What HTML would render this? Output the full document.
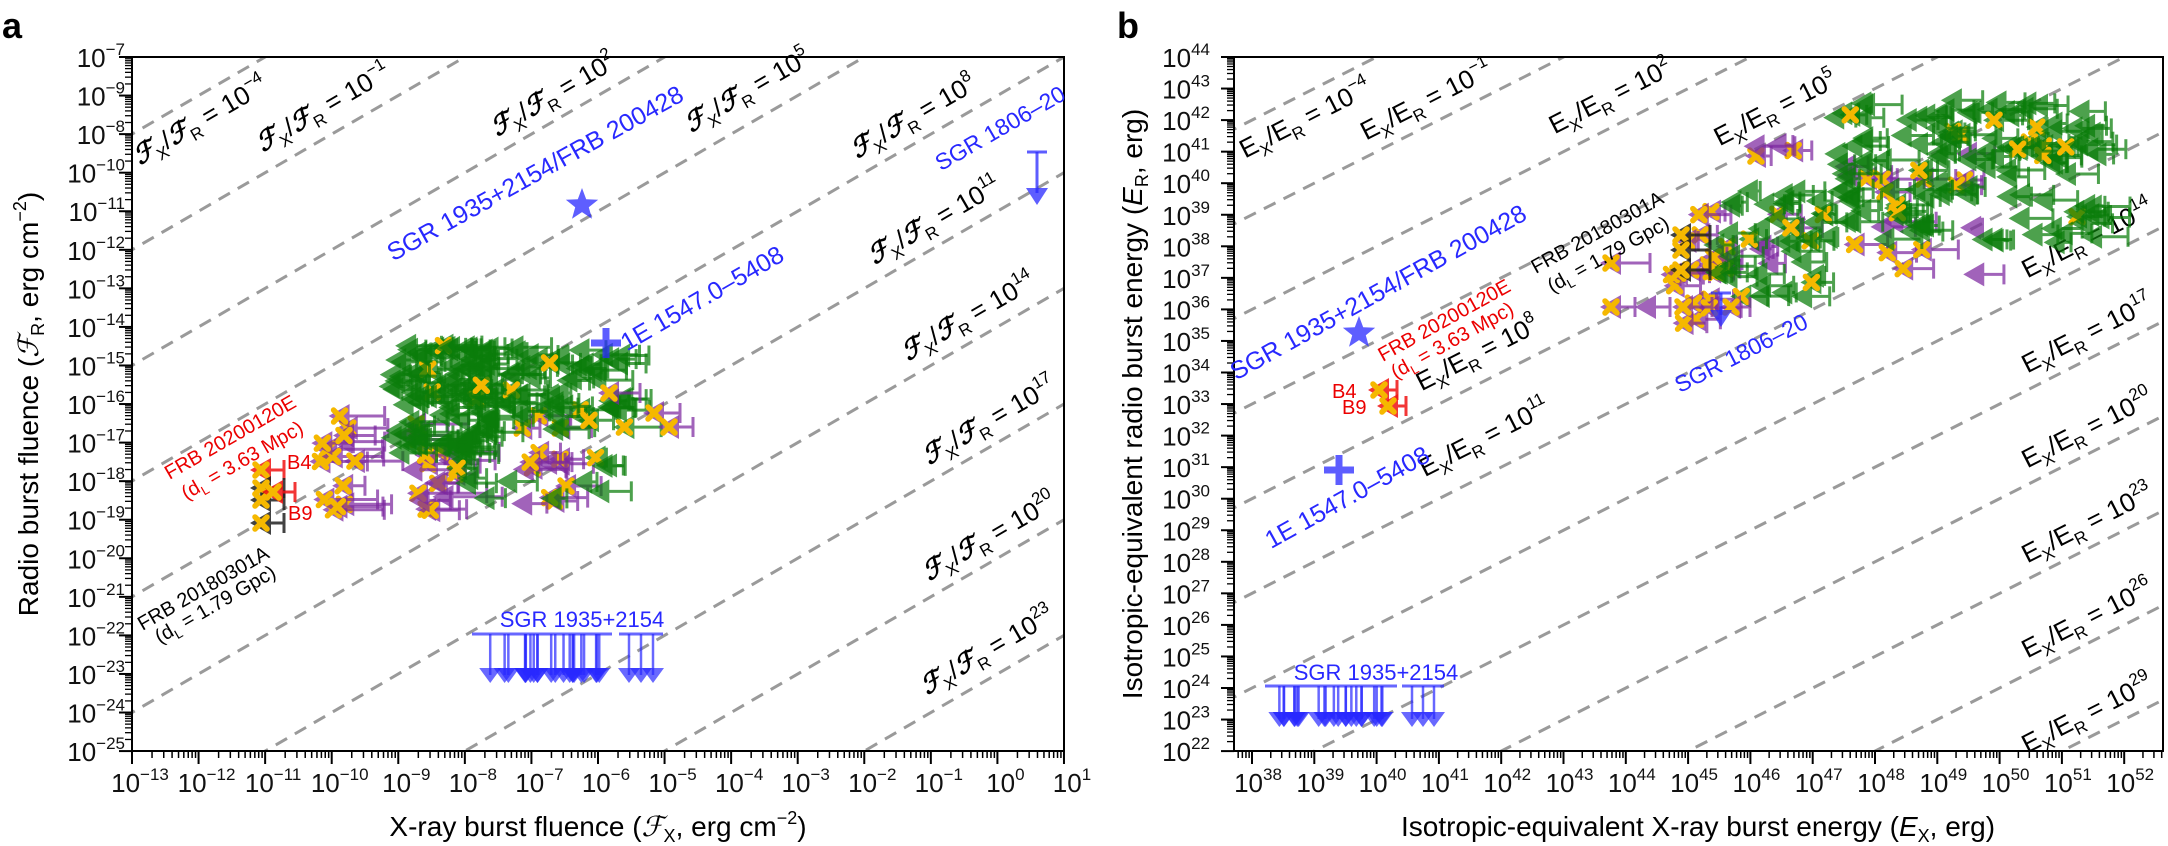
<!DOCTYPE html>
<html><head><meta charset="utf-8"><style>
html,body{margin:0;padding:0;background:#fff;width:2168px;height:846px;overflow:hidden;}
svg{display:block;font-family:"Liberation Sans","DejaVu Sans",sans-serif;}
</style></head><body>
<svg id="s" width="2168" height="846" viewBox="0 0 2168 846" xmlns="http://www.w3.org/2000/svg">
<defs>
<clipPath id="ca"><rect x="132" y="57" width="932" height="694"/></clipPath>
<clipPath id="cb"><rect x="1234" y="57" width="929" height="694"/></clipPath>
</defs>
<text x="2" y="38" font-size="36" font-weight="bold">a</text>
<text x="1117" y="38" font-size="36" font-weight="bold">b</text>
<g id="ga" clip-path="url(#ca)"></g>
<g id="gb" clip-path="url(#cb)"></g>
<g id="top"></g>
</svg>
<script>
(function(){
var NS="http://www.w3.org/2000/svg";
function el(p,tag,attrs,txt){var e=document.createElementNS(NS,tag);for(var k in attrs)e.setAttribute(k,attrs[k]);if(txt!=null)e.textContent=txt;p.appendChild(e);return e;}
var top=document.getElementById('top'),ga=document.getElementById('ga'),gb=document.getElementById('gb');
var seed=12345;function rnd(){seed=(seed*1103515245+12345)%2147483648;return seed/2147483648;}
function AX(l){return 132+(l+13)*66.57;} function AY(l){return 57+(-7-l)*38.56;}
function BX(l){return 1252+(l-38)*62.3;} function BY(l){return 57+(44-l)*31.55;}
[-4,-1,2,5,8,11,14,17,20,23].forEach(function(k){
 el(ga,'line',{x1:AX(-30),y1:AY(-30-k),x2:AX(10),y2:AY(10-k),stroke:'#9a9a9a','stroke-width':3,'stroke-dasharray':'13,9'});});
[-4,-1,2,5,8,11,14,17,20,23,26,29].forEach(function(k){
 el(gb,'line',{x1:BX(30),y1:BY(30-k),x2:BX(60),y2:BY(60-k),stroke:'#9a9a9a','stroke-width':3,'stroke-dasharray':'13,9'});});
el(top,'rect',{x:132,y:57,width:932,height:694,fill:'none',stroke:'#000','stroke-width':2});
el(top,'rect',{x:1234,y:57,width:929,height:694,fill:'none',stroke:'#000','stroke-width':2});
var minors=[2,3,4,5,6,7,8,9].map(function(v){return Math.log10(v);});
function tl(p,x,y,base,exp,anchor){var t=el(p,'text',{x:x,y:y,'font-size':26,'text-anchor':anchor,fill:'#111'});
 el(t,'tspan',{},base);el(t,'tspan',{dy:-12,'font-size':17},exp);return t;}
for(var i=-13;i<=1;i++){var x=AX(i);el(top,'line',{x1:x,y1:751,x2:x,y2:764,stroke:'#000','stroke-width':2});
 tl(top,x+8,792,'10',String(i).replace('-','\u2212'),'middle');
 if(i<1)minors.forEach(function(m){var xx=AX(i+m);el(top,'line',{x1:xx,y1:751,x2:xx,y2:758,stroke:'#000','stroke-width':1.5});});}
var ylabA=[-7,-9,-8,-10];for(var e=-11;e>=-25;e--)ylabA.push(e);
for(var i=0;i<19;i++){var y=57+i*38.56;el(top,'line',{x1:119,y1:y,x2:132,y2:y,stroke:'#000','stroke-width':2});
 tl(top,125,y+10,'10',String(ylabA[i]).replace('-','\u2212'),'end');
 if(i<18)minors.forEach(function(m){var yy=y+38.56-m*38.56;el(top,'line',{x1:125,y1:yy,x2:132,y2:yy,stroke:'#000','stroke-width':1.3});});}
for(var i=38;i<=52;i++){var x=BX(i);el(top,'line',{x1:x,y1:751,x2:x,y2:764,stroke:'#000','stroke-width':2});
 tl(top,x+6,792,'10',String(i),'middle');
 minors.forEach(function(m){var xx=BX(i+m);if(xx<2163)el(top,'line',{x1:xx,y1:751,x2:xx,y2:758,stroke:'#000','stroke-width':1.5});});}
minors.forEach(function(m){var xx=BX(37+m);if(xx>1234)el(top,'line',{x1:xx,y1:751,x2:xx,y2:758,stroke:'#000','stroke-width':1.5});});
for(var i=22;i<=44;i++){var y=BY(i);el(top,'line',{x1:1221,y1:y,x2:1234,y2:y,stroke:'#000','stroke-width':2});
 tl(top,1210,y+10,'10',String(i),'end');
 if(i<44)minors.forEach(function(m){var yy=BY(i+m);el(top,'line',{x1:1227,y1:yy,x2:1234,y2:yy,stroke:'#000','stroke-width':1.3});});}
var t=el(top,'text',{x:598,y:836,'font-size':28,'text-anchor':'middle'});
t.innerHTML='X-ray burst fluence (<tspan font-family="DejaVu Serif,serif" font-style="italic">\u2131</tspan><tspan font-size="18" dy="6">X</tspan><tspan dy="-6">, erg cm</tspan><tspan font-size="18" dy="-12">\u22122</tspan><tspan dy="12">)</tspan>';
t=el(top,'text',{x:0,y:0,'font-size':28,'text-anchor':'middle',transform:'translate(38,404) rotate(-90)'});
t.innerHTML='Radio burst fluence (<tspan font-family="DejaVu Serif,serif" font-style="italic">\u2131</tspan><tspan font-size="18" dy="6">R</tspan><tspan dy="-6">, erg cm</tspan><tspan font-size="18" dy="-12">\u22122</tspan><tspan dy="12">)</tspan>';
t=el(top,'text',{x:1698,y:836,'font-size':28,'text-anchor':'middle'});
t.innerHTML='Isotropic-equivalent X-ray burst energy (<tspan font-style="italic">E</tspan><tspan font-size="18" dy="6">X</tspan><tspan dy="-6">, erg)</tspan>';
t=el(top,'text',{x:0,y:0,'font-size':28,'text-anchor':'middle',transform:'translate(1142,404) rotate(-90)'});
t.innerHTML='Isotropic-equivalent radio burst energy (<tspan font-style="italic">E</tspan><tspan font-size="18" dy="6">R</tspan><tspan dy="-6">, erg)</tspan>';
function rlabA(cx,cy,exp){var g=el(top,'g',{transform:'translate('+cx+','+cy+') rotate(-30)'});
 var t=el(g,'text',{x:0,y:9,'font-size':26,'text-anchor':'middle'});
 t.innerHTML='<tspan font-family="DejaVu Serif,serif" font-style="italic" font-weight="bold">\u2131</tspan><tspan font-size="17" dy="7">X</tspan><tspan dy="-7">/</tspan><tspan font-family="DejaVu Serif,serif" font-style="italic" font-weight="bold">\u2131</tspan><tspan font-size="17" dy="7">R</tspan><tspan dy="-7"> = 10</tspan><tspan font-size="17" dy="-12">'+exp+'</tspan>';}
function rlabB(cx,cy,exp){var g=el(top,'g',{transform:'translate('+cx+','+cy+') rotate(-27)'});
 var t=el(g,'text',{x:0,y:9,'font-size':26,'text-anchor':'middle'});
 t.innerHTML='E<tspan font-size="17" dy="7">X</tspan><tspan dy="-7">/E</tspan><tspan font-size="17" dy="7">R</tspan><tspan dy="-7"> = 10</tspan><tspan font-size="17" dy="-12">'+exp+'</tspan>';}
rlabA(200,120,'\u22124');rlabA(323,107,'\u22121');rlabA(553,94,'2');rlabA(747,90,'5');rlabA(913,116,'8');
rlabA(934,220,'11');rlabA(968,316,'14');rlabA(989,420,'17');rlabA(989,536,'20');rlabA(987,650,'23');
rlabB(1305,118,'\u22124');rlabB(1426,100,'\u22121');rlabB(1610,96,'2');rlabB(1775,108,'5');rlabB(1477,353,'8');rlabB(1484,437,'11');
rlabB(2087,238,'14');rlabB(2087,333,'17');rlabB(2087,428,'20');rlabB(2087,523,'23');rlabB(2087,618,'26');rlabB(2087,713,'29');
var G='rgb(10,125,10)',P='rgb(125,40,160)',Y='#f5b800';
function pt(p,x,y,col,cap,op,hasX){var g=el(p,'g',{opacity:op});
 el(g,'line',{x1:x+10,y1:y,x2:x+cap,y2:y,stroke:col,'stroke-width':3});
 el(g,'line',{x1:x+cap,y1:y-10,x2:x+cap,y2:y+10,stroke:col,'stroke-width':3});
 el(g,'polygon',{points:x+','+y+' '+(x+21)+','+(y-12)+' '+(x+21)+','+(y+12),fill:col});
 if(hasX){el(p,'path',{d:'M'+(x+5)+' '+(y-6)+'L'+(x+17)+' '+(y+6)+'M'+(x+5)+' '+(y+6)+'L'+(x+17)+' '+(y-6),stroke:Y,'stroke-width':5.5,'stroke-linecap':'round'});}}
function cluster(p,n,x0,x1,y0,y1,col,cmin,cmax,px){for(var i=0;i<n;i++){var x=x0+rnd()*(x1-x0),y=y0+rnd()*(y1-y0);
 pt(p,x,y,col,cmin+rnd()*(cmax-cmin),0.72,rnd()<px);}}
// panel a data
cluster(top,14,305,345,405,525,P,25,70,0.9);
cluster(top,16,390,450,410,515,P,30,80,0.7);
cluster(top,14,505,570,415,515,P,25,55,0.7);
cluster(top,95,378,480,345,455,G,20,55,0.06);
cluster(top,60,470,615,345,430,G,20,50,0.06);
cluster(top,14,420,600,440,505,G,20,45,0.05);
pt(top,598,393,P,42,0.72,true);pt(top,643,413,P,37,0.72,true);pt(top,658,427,P,35,0.72,true);
pt(top,250,470,'rgb(240,20,20)',34,0.85,true);pt(top,250,488,'#222',34,0.85,true);pt(top,250,500,'#222',34,0.85,true);
pt(top,262,492,'rgb(240,20,20)',33,0.85,true);pt(top,250,523,'#222',34,0.85,true);
// panel b data
cluster(top,26,1740,1970,140,280,P,20,55,0.6);
cluster(top,20,1660,1720,205,330,P,20,45,0.9);
cluster(top,130,1800,2090,100,245,G,20,50,0.06);
cluster(top,35,1700,1810,190,300,G,20,45,0.05);
pt(top,1600,263,P,50,0.72,true);pt(top,1670,235,'#222',40,0.85,true);pt(top,1670,250,'#222',40,0.85,true);pt(top,1670,270,'#222',40,0.85,true);
pt(top,1600,307,P,35,0.72,true);pt(top,1635,307,P,35,0.72,false);pt(top,1672,307,P,40,0.72,true);pt(top,1720,307,P,30,0.72,true);
pt(top,1368,390,'rgb(240,20,20)',29,0.85,true);pt(top,1377,406,'rgb(240,20,20)',29,0.85,true);
var B='rgb(40,40,255)';
function star(cx,cy,r){var s='';for(var i=0;i<10;i++){var a=-Math.PI/2+i*Math.PI/5,rr=i%2?r*0.42:r;s+=(cx+rr*Math.cos(a))+','+(cy+rr*Math.sin(a))+' ';}
 el(top,'polygon',{points:s,fill:B,opacity:0.75});}
star(582,205,17);star(1359,333,17);
function plus(cx,cy){el(top,'path',{d:'M'+(cx-15)+' '+cy+'H'+(cx+15)+'M'+cx+' '+(cy-15)+'V'+(cy+15),stroke:B,'stroke-width':7,opacity:0.75});}
plus(606,343);plus(1339,470);
function darrow(x,y0,y1){el(top,'line',{x1:x-10,y1:y0,x2:x+10,y2:y0,stroke:B,'stroke-width':3,opacity:0.75});
 el(top,'line',{x1:x,y1:y0,x2:x,y2:y1-12,stroke:B,'stroke-width':3,opacity:0.75});
 el(top,'polygon',{points:(x-11)+','+(y1-17)+' '+(x+11)+','+(y1-17)+' '+x+','+y1,fill:B,opacity:0.75});}
darrow(1037,152,205);darrow(1721,293,327);
function sgr(xa,xb,xc,xd,yc,yt,n){el(top,'line',{x1:xa,y1:yc,x2:xb,y2:yc,stroke:B,'stroke-width':3,opacity:0.7});
 el(top,'line',{x1:xc,y1:yc,x2:xd,y2:yc,stroke:B,'stroke-width':3,opacity:0.7});
 var xs=[];for(var i=0;i<n;i++)xs.push(xa+10+Math.pow(rnd(),0.8)*(xb-xa-20));xs.push(xc+10,(xc+xd)/2,xd-10);
 xs.forEach(function(x){el(top,'line',{x1:x,y1:yc,x2:x,y2:yt-8,stroke:B,'stroke-width':2.5,opacity:0.7});
  el(top,'polygon',{points:(x-11)+','+(yt-15)+' '+(x+11)+','+(yt-15)+' '+x+','+yt,fill:B,opacity:0.7});});}
sgr(472,612,619,663,634,683,22);sgr(1265,1397,1402,1444,686,727,22);
function rt(cx,cy,ang,size,col,html){var g=el(top,'g',{transform:'translate('+cx+','+cy+') rotate('+ang+')'});
 var t=el(g,'text',{x:0,y:size*0.35,'font-size':size,'text-anchor':'middle',fill:col});t.innerHTML=html;}
rt(535,173,-29,25,B,'SGR 1935+2154/FRB 200428');
rt(702,298,-30,25,B,'1E 1547.0\u20135408');
rt(1000,128,-30,23,B,'SGR 1806\u201320');
rt(230,437,-30,20,'rgb(235,0,0)','FRB 20200120E');
rt(242,460,-30,20,'rgb(235,0,0)','(d<tspan font-size="13" dy="5">L</tspan><tspan dy="-5"> = 3.63 Mpc)</tspan>');
rt(203,588,-30,20,'#000','FRB 20180301A');
rt(215,604,-30,20,'#000','(d<tspan font-size="13" dy="5">L</tspan><tspan dy="-5"> = 1.79 Gpc)</tspan>');
el(top,'text',{x:287,y:469,'font-size':20,fill:'rgb(235,0,0)'},'B4');
el(top,'text',{x:288,y:520,'font-size':20,fill:'rgb(235,0,0)'},'B9');
el(top,'text',{x:582,y:627,'font-size':22,fill:B,'text-anchor':'middle'},'SGR 1935+2154');
rt(1378,292,-29,25,B,'SGR 1935+2154/FRB 200428');
rt(1347,497,-29,25,B,'1E 1547.0\u20135408');
rt(1741,353,-27,23,B,'SGR 1806\u201320');
rt(1444,320,-29,20,'rgb(235,0,0)','FRB 20200120E');
rt(1452,340,-29,20,'rgb(235,0,0)','(d<tspan font-size="13" dy="5">L</tspan><tspan dy="-5"> = 3.63 Mpc)</tspan>');
rt(1597,232,-29,20,'#000','FRB 20180301A');
rt(1608,254,-29,20,'#000','(d<tspan font-size="13" dy="5">L</tspan><tspan dy="-5"> = 1.79 Gpc)</tspan>');
el(top,'text',{x:1332,y:398,'font-size':20,fill:'rgb(235,0,0)'},'B4');
el(top,'text',{x:1342,y:414,'font-size':20,fill:'rgb(235,0,0)'},'B9');
el(top,'text',{x:1376,y:680,'font-size':22,fill:B,'text-anchor':'middle'},'SGR 1935+2154');
})();
</script>
</body></html>
